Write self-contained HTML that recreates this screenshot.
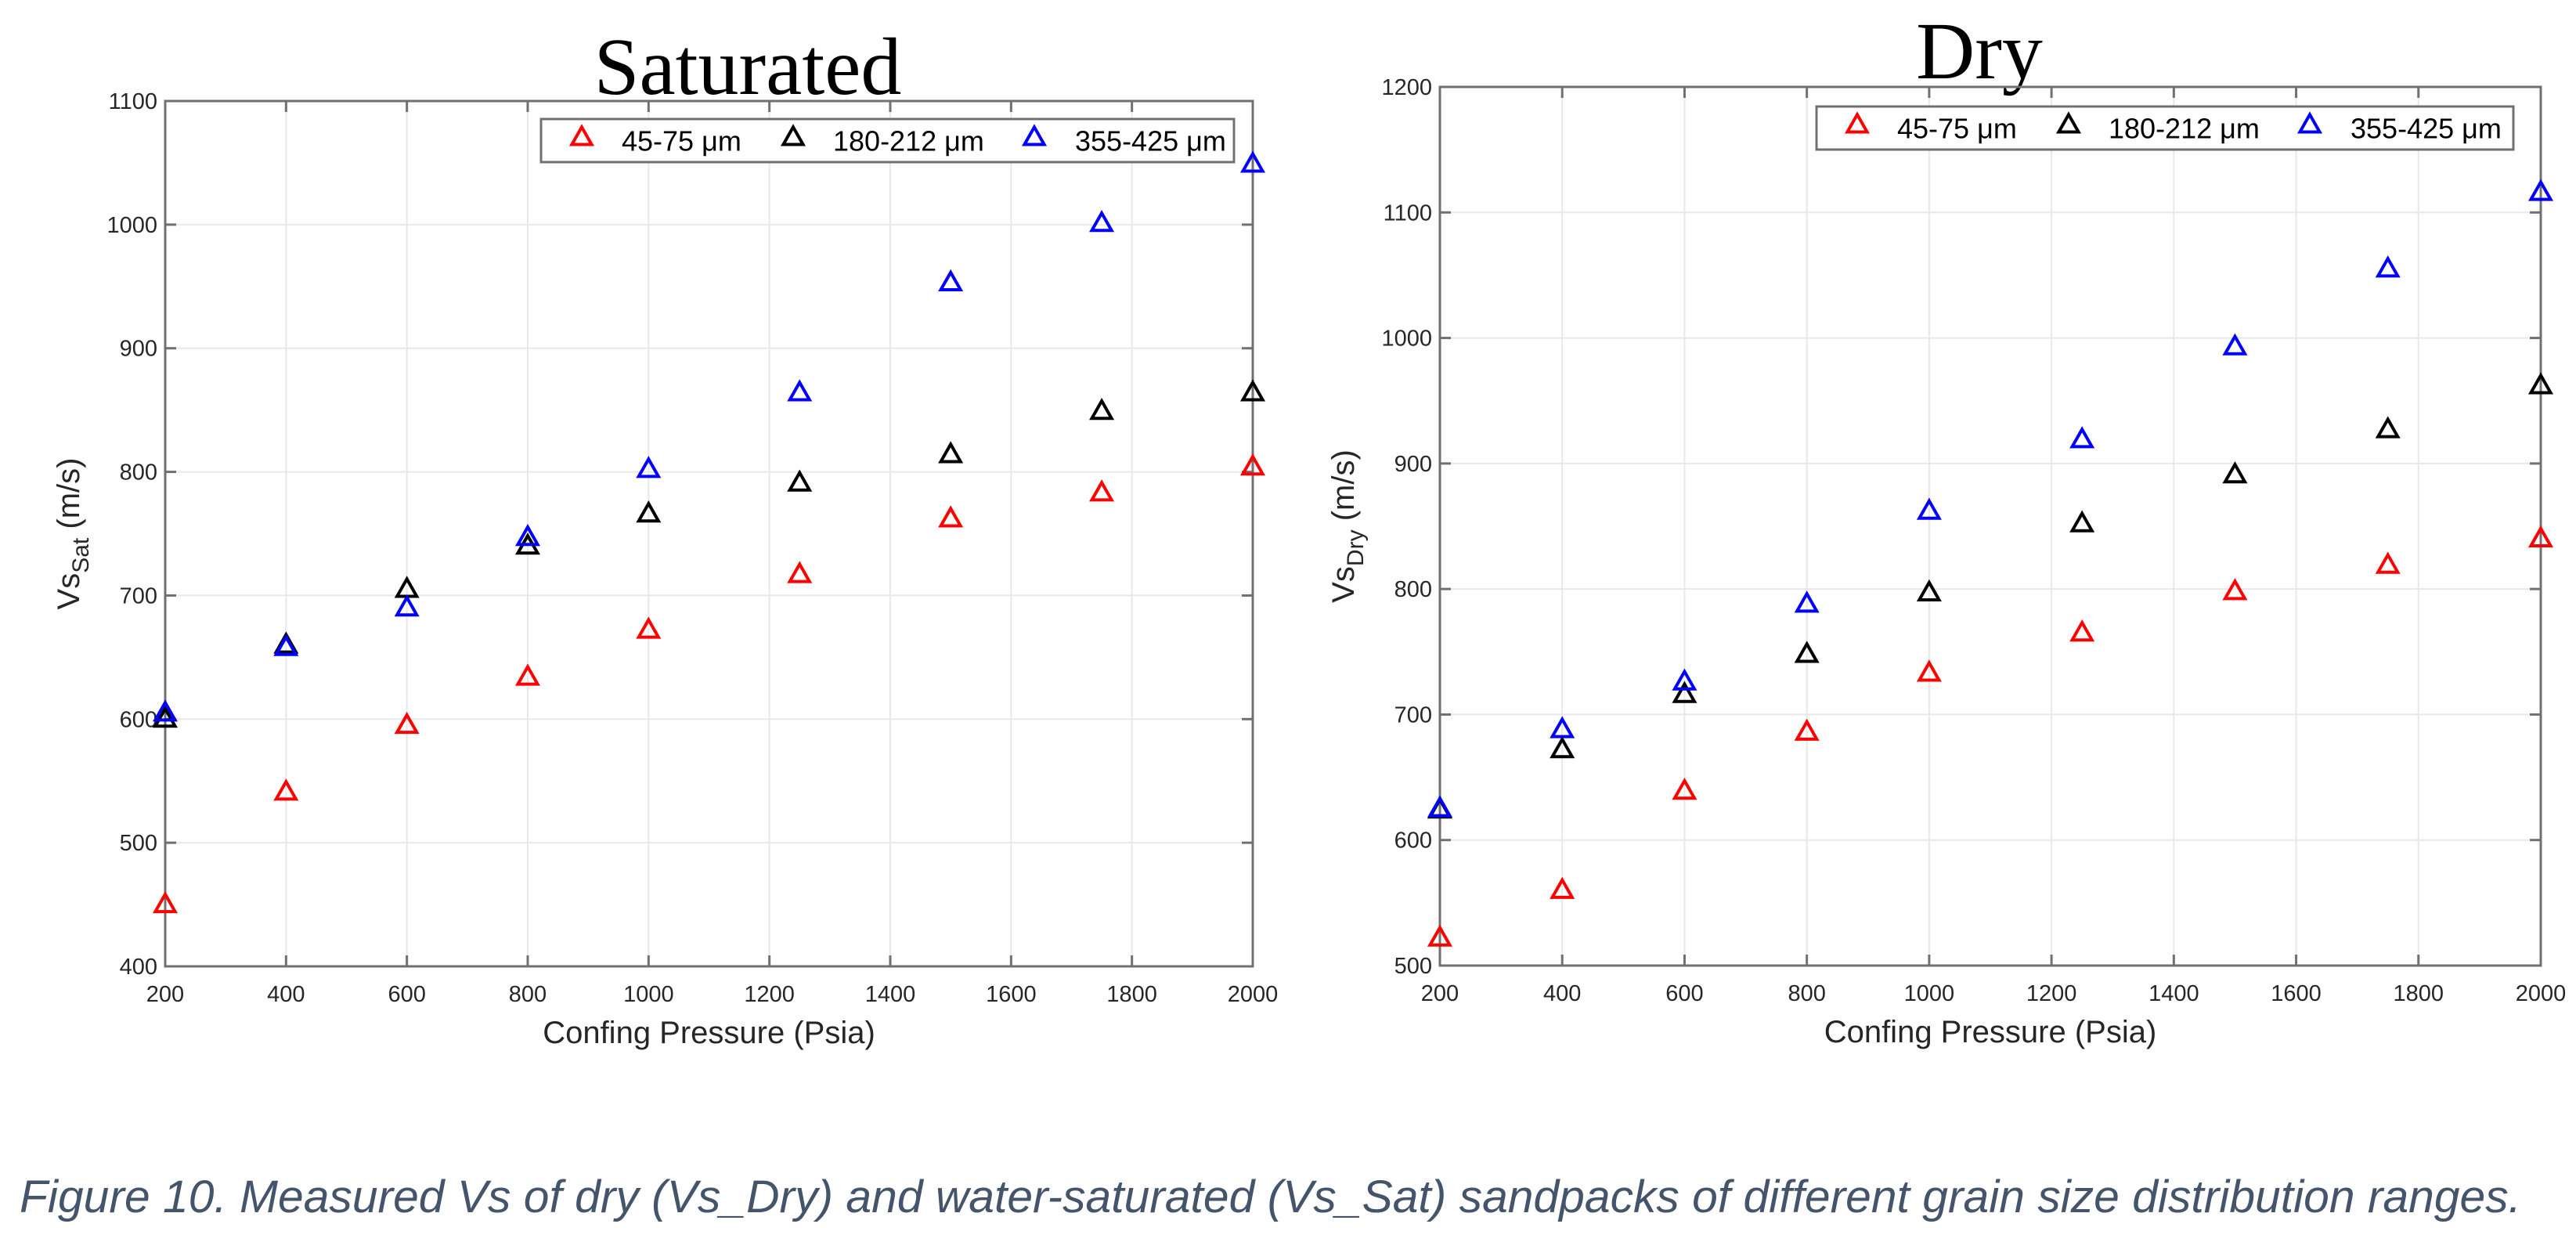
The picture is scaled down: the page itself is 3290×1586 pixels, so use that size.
<!DOCTYPE html>
<html><head><meta charset="utf-8">
<style>
html,body{margin:0;padding:0;background:#fff;}
svg{display:block;}
text{font-family:"Liberation Sans",sans-serif;}
</style></head>
<body>
<svg id="fig" width="3290" height="1586" viewBox="0 0 3290 1586" xmlns="http://www.w3.org/2000/svg">
<text x="955" y="120" font-family="Liberation Serif" style="font-family:'Liberation Serif',serif" font-size="104" text-anchor="middle">Saturated</text>
<text x="2528" y="100" style="font-family:'Liberation Serif',serif" font-size="104" text-anchor="middle">Dry</text>
<text x="25" y="1548" font-size="58" font-style="italic" fill="#44546a" textLength="3195" lengthAdjust="spacingAndGlyphs">Figure 10. Measured Vs of dry (Vs_Dry) and water-saturated (Vs_Sat) sandpacks of different grain size distribution ranges.</text>
</svg>
<script>
const xVals = [200,400,600,800,1000,1250,1500,1750,2000];
const xTicks = [200,400,600,800,1000,1200,1400,1600,1800,2000];
const seriesNames = ['45-75 μm','180-212 μm','355-425 μm'];
const satRed = [450,541,595,634,672,717,762,783,804];
const satBlack = [600,660,705,740,766,791,814,849,864];
const satBlue = [605,658,690,747,802,864,953,1001,1049];
const satYTicks = [400,500,600,700,800,900,1000,1100];
const dryRed = [522,560,639,686,733,765,798,819,840];
const dryBlack = [624,672,716,748,797,852,891,927,962];
const dryBlue = [625,688,726,788,862,919,993,1055,1116];
const dryYTicks = [500,600,700,800,900,1000,1100,1200];
const colors = ['#ff0000','#000000','#0000ff'];
const NS = 'http://www.w3.org/2000/svg';
const svg = document.getElementById('fig');
function mk(tag, attrs, parent){const e=document.createElementNS(NS,tag);for(const k in attrs)e.setAttribute(k,attrs[k]);(parent||svg).appendChild(e);return e;}
function tri(g,cx,cy,c){
  const s=12;
  return mk('polygon',{points:`${cx},${cy-s*1.1} ${cx+s*1.05},${cy+s*0.75} ${cx-s*1.05},${cy+s*0.75}`,fill:'none',stroke:c,'stroke-width':4},g);
}
function chart(cfg){
  const g=mk('g',{});
  
  
  const {L,R,T,B,y0,y1}=cfg;
  const sx=v=>L+(v-200)/(2000-200)*(R-L);
  const sy=v=>B-(v-y0)/(y1-y0)*(B-T);
  xTicks.forEach(t=>{
    const gl=mk('line',{x1:sx(t),x2:sx(t),y1:T,y2:B,stroke:'#e8e8e8','stroke-width':2},g);
    
    
    mk('line',{x1:sx(t),x2:sx(t),y1:B,y2:B-14,stroke:'#707070','stroke-width':3},g);
    mk('line',{x1:sx(t),x2:sx(t),y1:T,y2:T+14,stroke:'#707070','stroke-width':3},g);
    const tl=mk('text',{x:sx(t),y:B+45,'font-size':29,fill:'#262626','text-anchor':'middle'},g);
    tl.textContent=t;
    
    
  });
  cfg.yTicks.forEach(t=>{
    const gl=mk('line',{x1:L,x2:R,y1:sy(t),y2:sy(t),stroke:'#e8e8e8','stroke-width':2},g);
    
    
    mk('line',{x1:L,x2:L+14,y1:sy(t),y2:sy(t),stroke:'#707070','stroke-width':3},g);
    mk('line',{x1:R,x2:R-14,y1:sy(t),y2:sy(t),stroke:'#707070','stroke-width':3},g);
    const tl=mk('text',{x:L-10,y:sy(t)+10,'font-size':29,fill:'#262626','text-anchor':'end'},g);
    tl.textContent=t;
    
    
  });
  const box=mk('rect',{x:L,y:T,width:R-L,height:B-T,fill:'none',stroke:'#707070','stroke-width':3},g);
  
  
  const xl=mk('text',{x:(L+R)/2,y:B+98,'font-size':40,fill:'#262626','text-anchor':'middle'},g);
  xl.textContent='Confing Pressure (Psia)';
  
  
  const yl=mk('text',{transform:`translate(${L-110},${(T+B)/2}) rotate(-90)`,'font-size':40,fill:'#262626','text-anchor':'middle'},g);
  
  
  yl.innerHTML=`Vs<tspan dy="12" font-size="30">${cfg.sub}</tspan><tspan dy="-12"> (m/s)</tspan>`;
  cfg.series.forEach((arr,i)=>{
    const sg=mk('g',{},g);
    
    
    arr.forEach((v,j)=>{
      const p=tri(sg,sx(xVals[j]),sy(v),colors[i]);
      
      
    });
  });
  const lg=mk('g',{},g);
  
  
  const {lx,ly,lw,lh}=cfg.leg;
  mk('rect',{x:lx,y:ly,width:lw,height:lh,fill:'#fff',stroke:'#707070','stroke-width':3},lg);
  const offs=[[52,103],[322,373],[630,682]];
  seriesNames.forEach((n,i)=>{
    const e=mk('g',{},lg);
    
    
    tri(e,lx+offs[i][0],ly+lh/2-4,colors[i]);
    const t=mk('text',{x:lx+offs[i][1],y:ly+lh/2+13,'font-size':36,fill:'#000'},e);
    t.textContent=n;
  });
}
chart({name:'saturated-chart',L:211,R:1600,T:129,B:1234,y0:400,y1:1100,yTicks:satYTicks,sub:'Sat',series:[satRed,satBlack,satBlue],leg:{lx:691,ly:152,lw:885,lh:55}});
chart({name:'dry-chart',L:1839,R:3245,T:111,B:1233,y0:500,y1:1200,yTicks:dryYTicks,sub:'Dry',series:[dryRed,dryBlack,dryBlue],leg:{lx:2320,ly:136,lw:890,lh:55}});
</script>
</body></html>
